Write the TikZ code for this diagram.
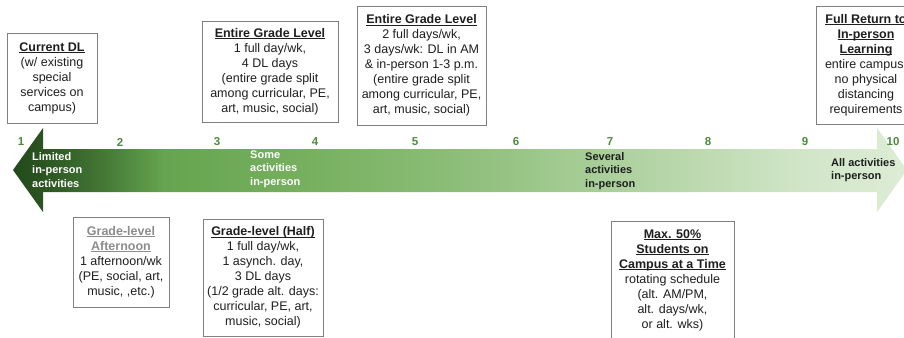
\documentclass[tikz,border=0pt]{standalone}
\usepackage{fontspec}
\setmainfont{Liberation Sans}
\usetikzlibrary{calc}

\definecolor{gA}{HTML}{244A1B}
\definecolor{gA2}{HTML}{2B5421}
\definecolor{gB}{HTML}{437635}
\definecolor{gC}{HTML}{66A550}
\definecolor{gD}{HTML}{76AF5E}
\definecolor{gE}{HTML}{8BBD77}
\definecolor{gF}{HTML}{B3D4A5}
\definecolor{gG}{HTML}{D1E5C7}
\definecolor{gH}{HTML}{DDEDD6}
\definecolor{boxgray}{HTML}{808080}
\definecolor{titlegray}{HTML}{8C8C8C}
\definecolor{numgreen}{HTML}{4B8B3B}
\definecolor{txt}{HTML}{1E1E1E}

\pgfdeclarehorizontalshading{greenramp}{100bp}{color(0bp)=(gA); color(25bp)=(gA); color(26.7bp)=(gA2); color(29.9bp)=(gB); color(33.5bp)=(gC); color(41.1bp)=(gD); color(49.4bp)=(gE); color(60.6bp)=(gF); color(69bp)=(gG); color(75bp)=(gH); color(100bp)=(gH)}

% bold title with a tight underline
\newcommand{\titl}[1]{\setbox0\hbox{\textbf{#1}}\rlap{\rule[-1.8pt]{\wd0}{0.8pt}}\box0}

\begin{document}
\begin{tikzpicture}[x=1pt, y=-1pt,
    box/.style={draw=boxgray, line width=0.8pt, align=center, inner sep=0pt, text=txt, font=\fontsize{12.5}{15}\selectfont},
    num/.style={text=numgreen, inner sep=0pt, font=\fontsize{11.5}{12}\selectfont\bfseries},
    lbl/.style={align=left, anchor=west, inner sep=0pt, font=\fontsize{11}{13.3}\selectfont\bfseries}]
  \useasboundingbox (0,0) rectangle (904,337);

  % double arrow
  \shade[shading=greenramp] (13,170) -- (43,128) -- (43,149) -- (877,149) -- (877,128) -- (907,170) -- (877,212) -- (877,192) -- (43,192) -- (43,212) -- cycle;

  \foreach \n/\xx in {1/21, 2/120, 3/217, 4/315, 5/415, 6/516, 7/610, 8/708, 9/805, 10/893}
    \node[num] (n\n) at (\xx,142) {\n};

  \node[lbl, text=white] (lim) at (32,170) {Limited\\in-person\\activities};
  \node[lbl, text=white] (some) at (250,169) {Some\\activities\\in-person};
  \node[lbl, text=txt] (sev) at (585,171) {Several\\activities\\in-person};
  \node[lbl, text=txt] (all) at (831,170.5) {All activities\\in-person};

  % boxes above
  \node[box, minimum width=90, minimum height=90] (dl) at (52,78) {\titl{Current DL}\\(w/ existing\\special\\services on\\campus)};
  \node[box, minimum width=136, minimum height=101] (grade1) at (270,71.5) {\titl{Entire Grade Level}\\1 full day/wk,\\4 DL days\\(entire grade split\\among curricular, PE,\\art, music, social)};
  \node[box, minimum width=129, minimum height=119] (grade2) at (421.5,65.5) {\titl{Entire Grade Level}\\2 full days/wk,\\3 days/wk: DL in AM\\\& in-person 1-3 p.m.\\(entire grade split\\among curricular, PE,\\art, music, social)};
  \node[box, minimum width=100, minimum height=118] (full) at (866,65) {\titl{Full Return to}\\\titl{In-person}\\\titl{Learning}\\entire campus,\\no physical\\distancing\\requirements};

  % boxes below
  \node[box, minimum width=96, minimum height=90] (aft) at (121,262) {\textcolor{titlegray}{\titl{Grade-level}}\\\textcolor{titlegray}{\titl{Afternoon}}\\1 afternoon/wk\\(PE, social, art,\\music, ,etc.)};
  \node[box, minimum width=120, minimum height=117] (half) at (263,277.5) {\titl{Grade-level (Half)}\\1 full day/wk,\\1 asynch. day,\\3 DL days\\(1/2 grade alt. days:\\curricular, PE, art,\\music, social)};
  \node[box, minimum width=123, minimum height=118] (max) at (672.5,280) {\titl{Max. 50\%}\\\titl{Students on}\\\titl{Campus at a Time}\\rotating schedule\\(alt. AM/PM,\\alt. days/wk,\\or alt. wks)};
\end{tikzpicture}
\end{document}
